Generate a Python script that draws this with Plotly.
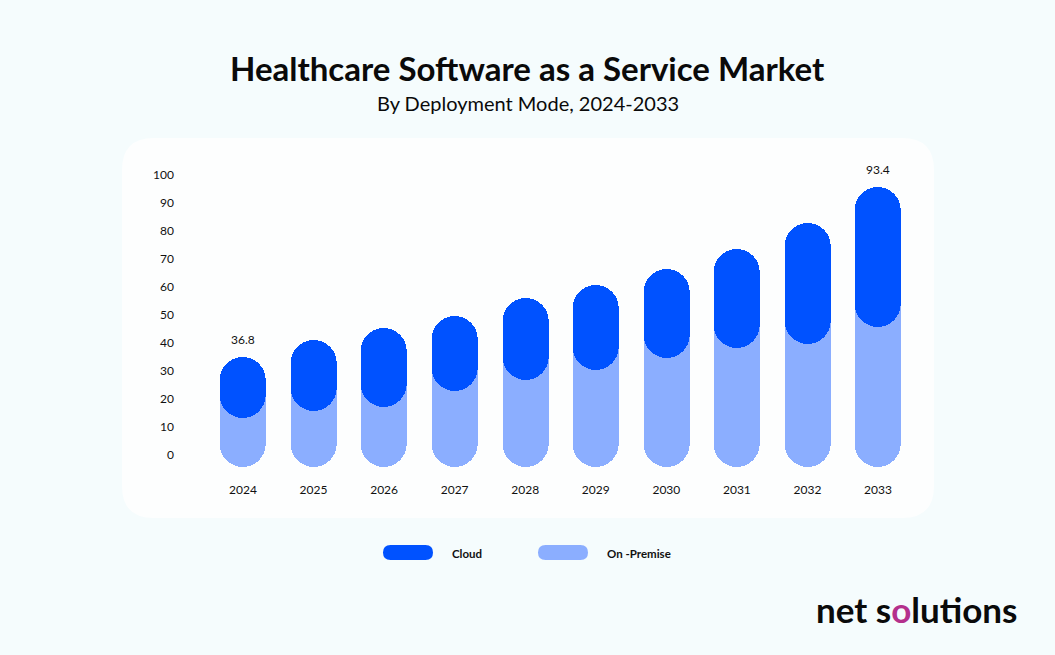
import plotly.graph_objects as go

# ---- data ----
years = ["2024", "2025", "2026", "2027", "2028", "2029", "2030", "2031", "2032", "2033"]
total_market = [36.8, 42.5, 46.5, 50.2, 56.3, 60.7, 66.0, 72.8, 81.2, 93.4]
on_premise = [16.4, 18.8, 20.1, 25.3, 29.0, 32.3, 36.4, 39.8, 41.1, 46.8]
y_ticks = [0, 10, 20, 30, 40, 50, 60, 70, 80, 90, 100]
labelled = ["2024", "2033"]
baseline = [0] * len(years)

# ---- style ----
DARK = "#0052FF"
LIGHT = "#8BAEFF"
BG = "#F5FCFD"
CARD = "#FDFEFE"
FONT = "Lato"

W, H = 1055, 655
L, R, T, B = 100, 100, 150, 180
PW, PH = W - L - R, H - T - B


def px_x(px):
    return (px - L) / PW


def px_y(py):
    return (H - B - py) / PH


def rounded_rect(x0, y0, x1, y1, r):
    X, Y = px_x, px_y
    return (f"M {X(x0 + r)} {Y(y0)} L {X(x1 - r)} {Y(y0)} Q {X(x1)} {Y(y0)} {X(x1)} {Y(y0 + r)} "
            f"L {X(x1)} {Y(y1 - r)} Q {X(x1)} {Y(y1)} {X(x1 - r)} {Y(y1)} "
            f"L {X(x0 + r)} {Y(y1)} Q {X(x0)} {Y(y1)} {X(x0)} {Y(y1 - r)} "
            f"L {X(x0)} {Y(y0 + r)} Q {X(x0)} {Y(y0)} {X(x0 + r)} {Y(y0)} Z")


cloud = [t - o for t, o in zip(total_market, on_premise)]
BW = 0.652

fig = go.Figure()
# light pill from 0 to the total (its top is covered by the cloud pill)
fig.add_trace(go.Bar(x=years, y=total_market, base=baseline, width=BW,
                     marker=dict(color=LIGHT, cornerradius="50%", line=dict(width=0)),
                     name="On -Premise", hoverinfo="skip", showlegend=False))
# cloud pill from on-premise level to total
fig.add_trace(go.Bar(x=years, y=cloud, base=on_premise, width=BW,
                     marker=dict(color=DARK, cornerradius="50%", line=dict(width=0)),
                     name="Cloud", hoverinfo="skip", showlegend=False))
# invisible trace carrying the tick-label axis
fig.add_trace(go.Scatter(x=years, y=baseline, yaxis="y2", mode="markers",
                         marker=dict(opacity=0), hoverinfo="skip", showlegend=False))

annotations = []
for i, (yr, tot) in enumerate(zip(years, total_market)):
    if yr in labelled:
        annotations.append(dict(x=i, y=tot, xref="x", yref="y", text=f"{tot:.1f}", showarrow=False,
                                xanchor="center", yanchor="middle", yshift=17,
                                font=dict(family=FONT, size=12, color="#111111")))

annotations.append(dict(x=px_x(527.5), y=px_y(68), xref="paper", yref="paper",
                        text="<b>Healthcare Software as a Service Market</b>",
                        showarrow=False, xanchor="center", yanchor="middle",
                        font=dict(family=FONT, size=33, color="#0a0a0a")))
annotations.append(dict(x=px_x(528), y=px_y(103), xref="paper", yref="paper",
                        text="By Deployment Mode, 2024-2033",
                        showarrow=False, xanchor="center", yanchor="middle",
                        font=dict(family=FONT, size=20, color="#0a0a0a")))
annotations.append(dict(x=px_x(450), y=px_y(553), xref="paper", yref="paper", text="<b>Cloud</b>",
                        showarrow=False, xanchor="left", yanchor="middle",
                        font=dict(family=FONT, size=11.5, color="#111111")))
annotations.append(dict(x=px_x(605), y=px_y(553), xref="paper", yref="paper", text="<b>On -Premise</b>",
                        showarrow=False, xanchor="left", yanchor="middle",
                        font=dict(family=FONT, size=11.5, color="#111111")))
annotations.append(dict(x=px_x(1019), y=px_y(609), xref="paper", yref="paper",
                        text="<b>net s<span style='color:#b4308c'>o</span>lutions</b>",
                        showarrow=False, xanchor="right", yanchor="middle",
                        font=dict(family=FONT, size=35, color="#0a0a0a")))

shapes = [
    dict(type="path", xref="paper", yref="paper", path=rounded_rect(122, 138, 934, 518, 32),
         fillcolor=CARD, line=dict(width=0), layer="below"),
    dict(type="path", xref="paper", yref="paper", path=rounded_rect(383, 545, 433, 560, 7.5),
         fillcolor=DARK, line=dict(width=0)),
    dict(type="path", xref="paper", yref="paper", path=rounded_rect(538, 545, 588, 560, 7.5),
         fillcolor=LIGHT, line=dict(width=0)),
]

# data axis: 0 -> 467px, 3 px/unit ; tick-label axis: 0 -> 455px, 2.8 px/unit
y_range = [-(H - B - 467) / 3.0, (467 - T) / 3.0]
y2_range = [-(H - B - 455) / 2.8, (455 - T) / 2.8]

fig.update_layout(
    width=W, height=H,
    margin=dict(l=L, r=R, t=T, b=B),
    paper_bgcolor=BG, plot_bgcolor="rgba(0,0,0,0)",
    barmode="overlay", bargap=0,
    showlegend=False,
    font=dict(family=FONT, color="#111111"),
    xaxis=dict(domain=[px_x(207.7), px_x(913.3)], range=[-0.5, 9.5], type="category",
               showgrid=False, zeroline=False, showline=False, ticks="",
               tickfont=dict(family=FONT, size=12, color="#111111"), ticklabelstandoff=6,
               anchor="y", fixedrange=True),
    yaxis=dict(range=y_range, showticklabels=False, showgrid=False, zeroline=False,
               showline=False, ticks="", fixedrange=True),
    yaxis2=dict(range=y2_range, overlaying="y", anchor="free", position=px_x(174), side="left",
                tickmode="array", tickvals=y_ticks, ticktext=[str(v) for v in y_ticks],
                showgrid=False, zeroline=False, showline=False, ticks="",
                tickfont=dict(family=FONT, size=12, color="#111111"), fixedrange=True),
    annotations=annotations,
    shapes=shapes,
)

fig.write_html("out.html", config={"displayModeBar": False},
               post_script="document.body.style.margin='0';document.body.style.overflow='hidden';")
